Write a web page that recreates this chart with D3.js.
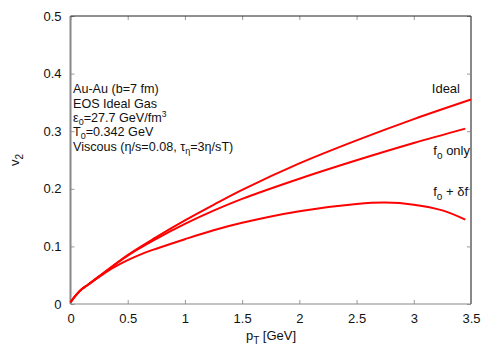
<!DOCTYPE html>
<html>
<head>
<meta charset="utf-8">
<style>
  body { margin: 0; background: white; }
  svg { font-family: 'Liberation Sans', Arial, Helvetica, sans-serif; }
</style>
</head>
<body>
<svg id="chart" width="494" height="346"></svg>
<script src="https://d3js.org/d3.v7.min.js"></script>
<script>
// pT [GeV] and v2
const idealPt = [0, 0.05, 0.1, 0.15, 0.25, 0.5, 0.75, 1, 1.25, 1.5, 2, 2.5, 3, 3.5]
const idealV2 = [0.003, 0.016, 0.026, 0.033, 0.048, 0.085, 0.116, 0.145, 0.172, 0.198, 0.244, 0.284, 0.321, 0.355]

const foPt = [0, 0.05, 0.1, 0.15, 0.25, 0.5, 0.75, 1, 1.25, 1.5, 2, 2.5, 3, 3.45]
const foV2 = [0.003, 0.016, 0.026, 0.033, 0.048, 0.084, 0.113, 0.139, 0.162, 0.1825, 0.2175, 0.2495, 0.2795, 0.3045]

const dfPt = [0, 0.05, 0.1, 0.15, 0.25, 0.375, 0.5, 0.625, 0.75, 1, 1.25, 1.5, 2, 2.5, 2.75, 3, 3.25, 3.45]
const dfV2 = [0.003, 0.016, 0.026, 0.033, 0.047, 0.063, 0.076, 0.087, 0.096, 0.1125, 0.128, 0.141, 0.161, 0.1735, 0.176, 0.1725, 0.1625, 0.1465]

const xTicks = [0, 0.5, 1, 1.5, 2, 2.5, 3, 3.5]
const yTicks = [0, 0.1, 0.2, 0.3, 0.4, 0.5]

const svg = d3.select("#chart")
const margin = { left: 70.5, right: 23, top: 16, bottom: 42 }
const W = 494, H = 346

const x = d3.scaleLinear().domain([0, 3.5]).range([margin.left, W - margin.right])
const y = d3.scaleLinear().domain([0, 0.5]).range([H - margin.bottom, margin.top])

// ticks (inward, on all four sides)
const tickCol = "#999"
svg.append("g").attr("transform", `translate(0,${y(0)})`)
    .call(d3.axisBottom(x).tickValues(xTicks).tickSize(-4).tickPadding(10).tickFormat(d3.format("")))
    .call(g => g.select(".domain").remove())
    .call(g => g.selectAll("line").attr("stroke", tickCol))
    .call(g => g.selectAll("text").attr("font-size", 13).attr("fill", "#111").attr("font-family", null))

svg.append("g").attr("transform", `translate(${x(0)},0)`)
    .call(d3.axisLeft(y).tickValues(yTicks).tickSize(-4).tickPadding(9).tickFormat(d3.format("")))
    .call(g => g.select(".domain").remove())
    .call(g => g.selectAll("line").attr("stroke", tickCol))
    .call(g => g.selectAll("text").attr("font-size", 13).attr("fill", "#111").attr("font-family", null))

svg.append("g").attr("transform", `translate(0,${y(0.5)})`)
    .call(d3.axisTop(x).tickValues(xTicks).tickSize(-4).tickFormat(""))
    .call(g => g.select(".domain").remove())
    .call(g => g.selectAll("line").attr("stroke", tickCol))

svg.append("g").attr("transform", `translate(${x(3.5)},0)`)
    .call(d3.axisRight(y).tickValues(yTicks).tickSize(-4).tickFormat(""))
    .call(g => g.select(".domain").remove())
    .call(g => g.selectAll("line").attr("stroke", tickCol))

// frame
svg.append("line").attr("x1", x(0)).attr("x2", x(0)).attr("y1", y(0)).attr("y2", y(0.5))
    .attr("stroke", "#888").attr("stroke-width", 2)
svg.append("line").attr("x1", x(3.5)).attr("x2", x(3.5)).attr("y1", y(0)).attr("y2", y(0.5))
    .attr("stroke", "#888").attr("stroke-width", 2)
svg.append("line").attr("x1", x(0)).attr("x2", x(3.5)).attr("y1", y(0)).attr("y2", y(0))
    .attr("stroke", "#888").attr("stroke-width", 1.2)
svg.append("line").attr("x1", x(0)).attr("x2", x(3.5)).attr("y1", y(0.5)).attr("y2", y(0.5))
    .attr("stroke", "#222").attr("stroke-width", 1)

// curves
const line = d3.line()
    .x(d => x(d[0]))
    .y(d => y(d[1]))
    .curve(d3.curveCatmullRom.alpha(0.5))

const series = [
    d3.zip(idealPt, idealV2),
    d3.zip(foPt, foV2),
    d3.zip(dfPt, dfV2)
]
svg.append("g").selectAll("path")
    .data(series)
    .join("path")
    .attr("d", line)
    .attr("fill", "none")
    .attr("stroke", "#ff0000")
    .attr("stroke-width", 2)

// curve labels
svg.append("text").attr("x", 460).attr("y", 93).attr("text-anchor", "end")
    .attr("font-size", 13).attr("fill", "#111").text("Ideal")

let t = svg.append("text").attr("x", 470).attr("y", 155).attr("text-anchor", "end")
    .attr("font-size", 13).attr("fill", "#111")
t.append("tspan").text("f")
t.append("tspan").attr("dy", 4).attr("font-size", 10).text("o")
t.append("tspan").attr("dy", -4).text(" only")

t = svg.append("text").attr("x", 468).attr("y", 196).attr("text-anchor", "end")
    .attr("font-size", 13).attr("fill", "#111")
t.append("tspan").text("f")
t.append("tspan").attr("dy", 4).attr("font-size", 10).text("o")
t.append("tspan").attr("dy", -4).text(" + \u03b4f")

// parameter block
const info = svg.append("g").attr("font-size", 12.6).attr("fill", "#111")
info.append("text").attr("x", 73).attr("y", 93).text("Au-Au (b=7 fm)")
info.append("text").attr("x", 73).attr("y", 107.5).text("EOS Ideal Gas")
t = info.append("text").attr("x", 73).attr("y", 122)
t.append("tspan").text("\u03b5")
t.append("tspan").attr("dy", 3).attr("font-size", 9).text("0")
t.append("tspan").attr("dy", -3).text("=27.7 GeV/fm")
t.append("tspan").attr("dy", -5).attr("font-size", 8.5).text("3")
t = info.append("text").attr("x", 73).attr("y", 136)
t.append("tspan").text("T")
t.append("tspan").attr("dy", 3).attr("font-size", 9).text("0")
t.append("tspan").attr("dy", -3).text("=0.342 GeV")
t = info.append("text").attr("x", 73).attr("y", 150.5)
t.append("tspan").text("Viscous (\u03b7/s=0.08, \u03c4")
t.append("tspan").attr("dy", 3).attr("font-size", 9).text("\u03b7")
t.append("tspan").attr("dy", -3).text("=3\u03b7/sT)")

// axis titles
t = svg.append("text").attr("x", 271).attr("y", 340).attr("text-anchor", "middle")
    .attr("font-size", 13).attr("fill", "#111")
t.append("tspan").text("p")
t.append("tspan").attr("dy", 4).attr("font-size", 10).text("T")
t.append("tspan").attr("dy", -4).text(" [GeV]")

t = svg.append("text").attr("transform", "translate(19,160) rotate(-90)").attr("text-anchor", "middle")
    .attr("font-size", 13).attr("fill", "#111")
t.append("tspan").text("v")
t.append("tspan").attr("dy", 4).attr("font-size", 10).text("2")
</script>
</body>
</html>
